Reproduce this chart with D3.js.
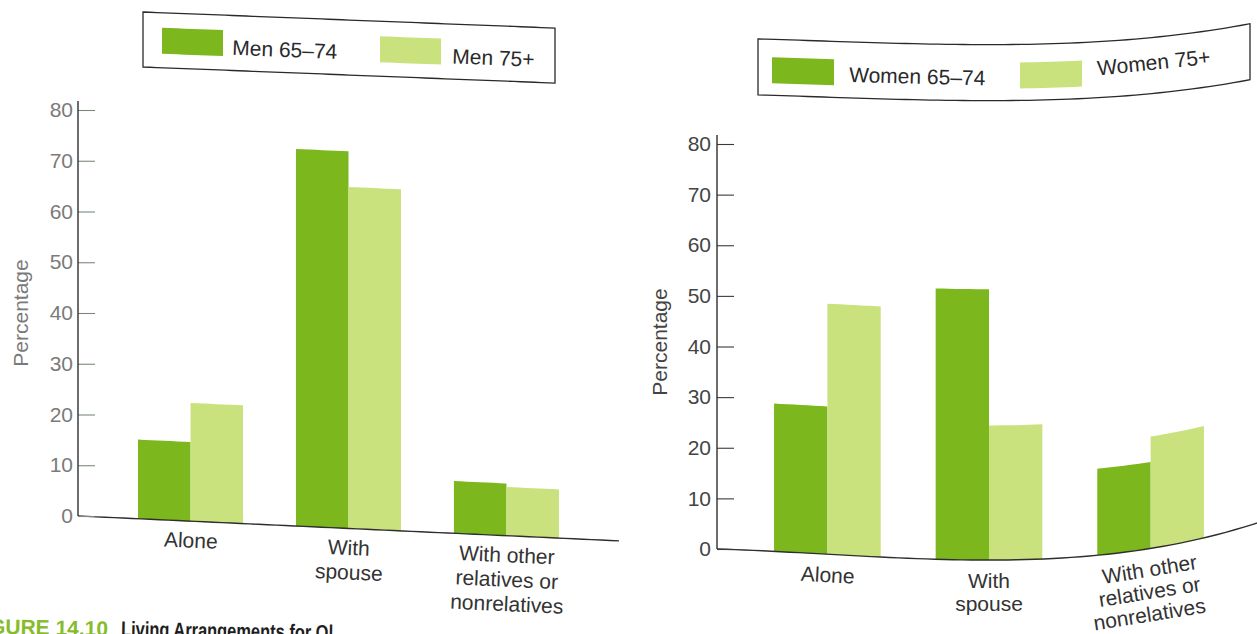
<!DOCTYPE html>
<html>
<head>
<meta charset="utf-8">
<script src="https://cdn.jsdelivr.net/npm/d3@7"></script>
<style>
  html, body { margin: 0; padding: 0; background: #ffffff; }
  svg { display: block; }
  text { font-family: "Liberation Sans", Arial, Helvetica, sans-serif; }
</style>
</head>
<body>
<svg id="fig" width="1257" height="634"></svg>
<script>
// Living arrangements of older adults, percentage by age group
const categories = ["Alone", "With spouse", "With other relatives or nonrelatives"];
const categoryLines = [["Alone"], ["With", "spouse"], ["With other", "relatives or", "nonrelatives"]];

const menSeries = ["Men 65–74", "Men 75+"];
const men6574 = [15.6, 74.3, 10.3];
const men75plus = [23.3, 67.3, 9.6];

const womenSeries = ["Women 65–74", "Women 75+"];
const women6574 = [29.2, 53.5, 17.1];
const women75plus = [49.5, 26.6, 22.1];

const yTicks = [0, 10, 20, 30, 40, 50, 60, 70, 80];
const yTitle = "Percentage";
const captionNumber = "FIGURE 14.10";
const captionTitle = "Living Arrangements for Ol";

const seriesColors = ["#7bb71d", "#c9e27e"];

const svg = d3.select("#fig");

// the printed page is slightly sheared on the left and curled on the right
const leftWarp = x => 0.046 * (x - 78);
const leftLegendWarp = x => 0.039 * (x - 143);
const rightCurl = x => {
  const u = x - 717;
  return 0.03168 * u + 2.168e-4 * u * u - 6.753e-7 * u * u * u;
};
const rightLegendWarp = x => 0.6 * rightCurl(x);

const slopeDeg = (f, x) => Math.atan((f(x + 1) - f(x - 1)) / 2) * 180 / Math.PI;

// closed path of a rectangle pushed through a warp
function warpedRect(warp, x0, x1, yTop, yBot, n = 8) {
  const pts = [];
  for (let i = 0; i <= n; i++) {
    const px = x0 + (x1 - x0) * i / n;
    pts.push([px, yTop + warp(px)]);
  }
  for (let i = n; i >= 0; i--) {
    const px = x0 + (x1 - x0) * i / n;
    pts.push([px, yBot + warp(px)]);
  }
  return d3.line()(pts) + "Z";
}

function warpedLine(warp, x0, x1, yy, n = 60) {
  const pts = d3.range(n + 1).map(i => {
    const px = x0 + (x1 - x0) * i / n;
    return [px, yy + warp(px)];
  });
  return d3.line()(pts);
}

function drawPanel(cfg) {
  const g = svg.append("g");
  const x = d3.scaleBand().domain(categories).range(cfg.xRange)
    .paddingInner(cfg.padIn).paddingOuter(cfg.padOut);
  const xs = d3.scaleBand().domain(cfg.series).range([0, x.bandwidth()]);
  const y = d3.scaleLinear().domain([0, 80]).range(cfg.yRange);
  const warp = cfg.warp;

  // bars
  const rows = [];
  categories.forEach((c, i) => {
    cfg.series.forEach((s, j) => rows.push({ c, s, j, v: cfg.values[j][i] }));
  });
  g.append("g").selectAll("path").data(rows).join("path")
    .attr("d", d => {
      const bx = x(d.c) + xs(d.s);
      return warpedRect(warp, bx, bx + xs.bandwidth(), y(d.v), y(0));
    })
    .attr("fill", d => seriesColors[d.j]);

  // x axis baseline
  g.append("path")
    .attr("d", warpedLine(warp, cfg.xRange[0], cfg.xLineEnd, y(0)))
    .attr("fill", "none").attr("stroke", "#2e2e2e").attr("stroke-width", 1.4);

  // y axis
  const ax = g.append("g")
    .attr("transform", `translate(${cfg.xRange[0]},0)`)
    .call(d3.axisLeft(y).tickValues(yTicks).tickSizeInner(-17).tickSizeOuter(0).tickPadding(cfg.tickPad));
  ax.select(".domain").remove();
  ax.selectAll(".tick line").attr("stroke", cfg.tickColor).attr("stroke-width", 1.1);
  ax.selectAll(".tick text")
    .attr("font-size", 21).attr("fill", cfg.labelColor)
    .style("font-family", '"Liberation Sans", Arial, sans-serif');
  g.append("line")
    .attr("x1", cfg.xRange[0]).attr("x2", cfg.xRange[0])
    .attr("y1", y(80) - 9).attr("y2", y(0))
    .attr("stroke", "#2e2e2e").attr("stroke-width", 1.4);

  // y title
  g.append("text")
    .attr("transform", `translate(${cfg.titleX},${cfg.titleY}) rotate(-90)`)
    .attr("text-anchor", "middle").attr("font-size", 21).attr("fill", cfg.labelColor)
    .text(yTitle);

  // category labels
  categories.forEach((c, i) => {
    const cx = x(c) + x.bandwidth() / 2;
    const ang = slopeDeg(warp, cx);
    categoryLines[i].forEach((ln, k) => {
      const ty = y(0) + cfg.labelOffset + k * cfg.lineHeight + warp(cx);
      g.append("text")
        .attr("transform", `translate(${cx},${ty}) rotate(${ang})`)
        .attr("text-anchor", "middle").attr("font-size", 21).attr("fill", "#333")
        .text(ln);
    });
  });

  // legend
  const L = cfg.legend, lw = cfg.legendWarp;
  const lg = svg.append("g");
  lg.append("path")
    .attr("d", warpedRect(lw, L.x0, L.x1, L.y0, L.y1, 60))
    .attr("fill", "none").attr("stroke", "#2a2a2a").attr("stroke-width", 1.3);
  cfg.series.forEach((s, j) => {
    const sx = L.swatchX[j];
    lg.append("path")
      .attr("d", warpedRect(lw, sx, sx + L.swatchW, L.swatchTop, L.swatchTop + L.swatchH))
      .attr("fill", seriesColors[j]);
    const tx = L.textX[j];
    const tmid = tx + 60;
    lg.append("text")
      .attr("transform", `translate(${tx},${L.textBase + lw(tmid)}) rotate(${slopeDeg(lw, tmid)})`)
      .attr("font-size", 21).attr("fill", "#2a2a2a")
      .text(s);
  });
}

drawPanel({
  series: menSeries,
  values: [men6574, men75plus],
  xRange: [78, 619], xLineEnd: 619,
  padIn: 0.335, padOut: 0.38,
  yRange: [516, 110],
  warp: leftWarp,
  tickPad: 5, tickColor: "#7b8a78", labelColor: "#7a7a7a",
  titleX: 28, titleY: 313,
  labelOffset: 26.5, lineHeight: 24.5,
  legendWarp: leftLegendWarp,
  legend: { x0: 143, x1: 555, y0: 12, y1: 67, swatchX: [162, 380], swatchW: 61,
            swatchTop: 27, swatchH: 26, textX: [232, 452], textBase: 49 }
});

drawPanel({
  series: womenSeries,
  values: [women6574, women75plus],
  xRange: [717, 1261], xLineEnd: 1262,
  padIn: 0.34, padOut: 0.353,
  yRange: [549, 144],
  warp: rightCurl,
  tickPad: 6, tickColor: "#3a3a3a", labelColor: "#444",
  titleX: 667, titleY: 342,
  labelOffset: 28, lineHeight: 22.5,
  legendWarp: rightLegendWarp,
  legend: { x0: 758, x1: 1250, y0: 38, y1: 94, swatchX: [772, 1020], swatchW: 62,
            swatchTop: 56, swatchH: 26, textX: [849, 1098], textBase: 76.5 }
});

// figure caption along the bottom edge
const cap = svg.append("g").attr("transform", "translate(0,634) rotate(1.0)");
cap.append("text")
  .attr("x", 108).attr("y", 0).attr("text-anchor", "end")
  .attr("font-size", 21).attr("font-weight", "bold").attr("fill", "#86bc2c")
  .text(captionNumber);
cap.append("text")
  .attr("x", 121).attr("y", 0)
  .attr("font-size", 21).attr("font-weight", "bold").attr("fill", "#1e1e1e")
  .attr("textLength", 212).attr("lengthAdjust", "spacingAndGlyphs")
  .text(captionTitle);
</script>
</body>
</html>
